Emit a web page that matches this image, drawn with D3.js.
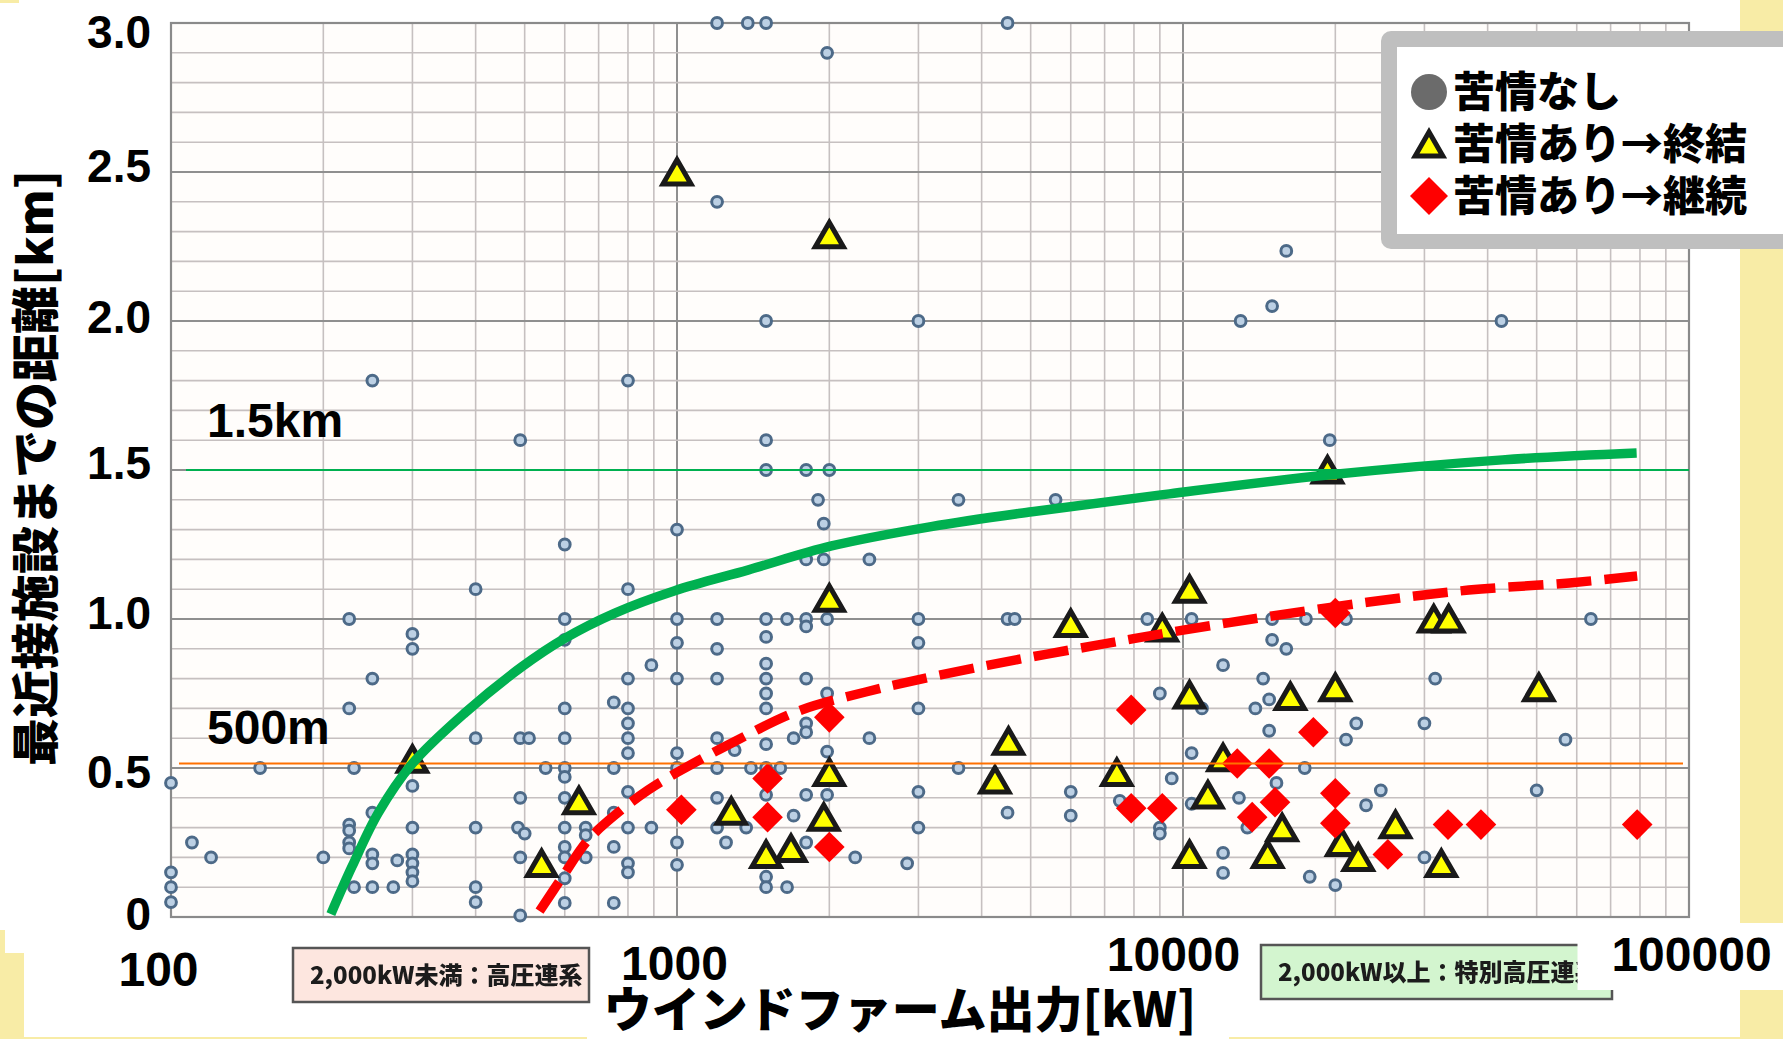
<!DOCTYPE html>
<html>
<head>
<meta charset="utf-8">
<script src="https://cdn.jsdelivr.net/npm/d3@7"></script>
<style>
	body { margin: 0; background: #fff; }
	svg { display: block; }
</style>
</head>
<body>
<svg id="chart"></svg>
<script>
// tick labels
var xTicks = [100, 1000, 10000, 100000];
var yTicks = [0, 0.5, 1.0, 1.5, 2.0, 2.5, 3.0];

// legend labels
var legendLabels = ["苦情なし", "苦情あり→終結", "苦情あり→継続"];
var axisTitles = {x: "ウインドファーム出力[kW]", y: "最近接施設までの距離[km]"};
var voltageNotes = ["2,000kW未満：高圧連系", "2,000kW以上：特別高圧連系"];

// reference distances [km]
var refLines = [{label: "1.5km", value: 1.5}, {label: "500m", value: 0.515}];

// [output kW, distance km]  no complaint
var noComplaint = [
	[1200,3.0],[1380,3.0],[1500,3.0],[4500,3.0],[1980,2.9],[1200,2.4],[16000,2.235],[15000,2.05],
	[1500,2.0],[3000,2.0],[13000,2.0],[42600,2.0],[250,1.8],[800,1.8],[490,1.6],[1500,1.6],[19500,1.6],
	[1500,1.5],[1800,1.5],[2000,1.5],[1900,1.4],[3600,1.4],[5600,1.4],[1950,1.32],[1000,1.3],[600,1.25],
	[1800,1.2],[1950,1.2],[2400,1.2],[400,1.1],[800,1.1],
	[225,1.0],[600,1.0],[1000,1.0],[1200,1.0],[1500,1.0],[1650,1.0],[1800,1.0],[1800,0.975],[1980,1.0],
	[3000,1.0],[4500,1.0],[4650,1.0],[8500,1.0],[10400,1.0],[15000,1.0],[17500,1.0],[21000,1.0],[64000,1.0],
	[300,0.95],[300,0.9],[600,0.93],[1000,0.92],[1200,0.9],[1500,0.94],[3000,0.92],[15000,0.93],[16000,0.9],
	[890,0.845],[1500,0.85],[12000,0.845],
	[250,0.8],[800,0.8],[1000,0.8],[1200,0.8],[1500,0.8],[1800,0.8],[14400,0.8],[31500,0.8],
	[1500,0.75],[1980,0.75],[9000,0.75],[750,0.72],[14800,0.73],
	[225,0.7],[600,0.7],[800,0.7],[1500,0.7],[3000,0.7],[10900,0.7],[13900,0.7],
	[800,0.65],[1800,0.65],[22000,0.65],[30000,0.65],[1800,0.62],[14800,0.625],
	[400,0.6],[490,0.6],[510,0.6],[600,0.6],[800,0.6],[1200,0.6],[1700,0.6],[2400,0.6],[21000,0.595],[57000,0.595],
	[1500,0.58],[1300,0.56],[800,0.55],[1000,0.55],[1980,0.555],[10400,0.55],
	[150,0.5],[230,0.5],[550,0.5],[600,0.5],[750,0.5],[1000,0.5],[1200,0.5],[1400,0.5],[1500,0.5],[1600,0.5],
	[3600,0.5],[17400,0.5],
	[100,0.45],[600,0.47],[9500,0.465],[15300,0.45],[300,0.44],
	[800,0.42],[3000,0.42],[6000,0.42],[24600,0.425],[50000,0.425],
	[490,0.4],[600,0.4],[1200,0.4],[1500,0.41],[1800,0.41],[1980,0.41],[12900,0.4],
	[7500,0.39],[10400,0.38],[23000,0.375],[250,0.35],[750,0.35],[4500,0.35],[1700,0.34],[6000,0.34],
	[225,0.31],[225,0.29],[300,0.3],[400,0.3],[485,0.3],[500,0.28],[600,0.3],[660,0.3],[660,0.275],[800,0.3],
	[890,0.3],[1200,0.3],[1370,0.3],[3000,0.3],[9000,0.3],[9000,0.28],[13400,0.3],
	[110,0.25],[225,0.25],[225,0.23],[600,0.235],[750,0.235],[1000,0.25],[1250,0.25],[1800,0.25],
	[120,0.2],[200,0.2],[250,0.21],[250,0.18],[280,0.19],[300,0.21],[300,0.18],[490,0.2],[600,0.2],[660,0.2],
	[2250,0.2],[12000,0.215],[30000,0.2],[800,0.18],[1000,0.175],[2850,0.18],
	[100,0.15],[300,0.15],[600,0.13],[800,0.15],[1500,0.135],[12000,0.148],[17800,0.135],[300,0.12],
	[100,0.1],[230,0.1],[250,0.1],[275,0.1],[400,0.1],[1500,0.1],[1650,0.1],[20000,0.107],
	[100,0.05],[400,0.05],[600,0.047],[750,0.047],[490,0.005]
];

// complaint -> resolved
var resolved = [
	[1000,2.5],[2000,2.29],[19300,1.5],[10300,1.1],[2000,1.07],[6000,0.985],[9100,0.97],[31300,1.0],[33500,1.0],
	[10300,0.745],[16300,0.74],[20000,0.77],[50500,0.77],[4520,0.59],[300,0.53],[12000,0.535],[4250,0.46],
	[7400,0.485],[2000,0.485],[11200,0.41],[640,0.39],[1280,0.355],[1950,0.335],[15700,0.3],[26300,0.31],
	[20600,0.25],[1680,0.23],[1500,0.21],[10300,0.21],[14700,0.21],[22200,0.2],[540,0.18],[32400,0.18]
];

// complaint -> continuing
var continuing = [
	[1020,0.36],[1510,0.465],[1510,0.335],[2000,0.67],[2000,0.235],[7900,0.695],[7900,0.365],[9100,0.365],
	[20000,1.02],[18100,0.62],[12800,0.515],[14800,0.515],[20000,0.415],[15200,0.385],[13700,0.335],
	[20000,0.315],[25400,0.21],[33400,0.31],[38800,0.31],[79000,0.31]
];

// hand drawn boundary curves
var resolvedCurve = [
	[207,0.01],[228,0.17],[257,0.35],[300,0.515],[381,0.685],[494,0.84],[600,0.935],[754,1.02],[990,1.095],
	[1385,1.165],[2020,1.245],[3180,1.31],[5030,1.36],[9400,1.42],[19300,1.483],[42800,1.534],[78800,1.557]
];
var continuingCurve = [
	[535,0.02],[594,0.135],[667,0.258],[764,0.35],[877,0.426],[1000,0.485],[1283,0.584],[1730,0.69],
	[2360,0.755],[3190,0.806],[4650,0.862],[6800,0.913],[9800,0.96],[14600,1.007],[23300,1.057],
	[36700,1.097],[58000,1.121],[79000,1.144]
];

var W = 1783, H = 1039;
var plot = {left: 171, right: 1689, top: 23, bottom: 917};
var numFont = "'Liberation Sans', Arial, sans-serif";
var jpFont = "'Noto Sans CJK JP', 'Noto Sans', sans-serif";
var yellow = "#f8eca6";

var svg = d3.select("#chart").attr("width", W).attr("height", H);

var x = d3.scaleLog().domain([100, 100000]).range([plot.left, plot.right]);
var y = d3.scaleLinear().domain([0, 3]).range([plot.bottom, plot.top]);

// yellow slide edges showing around the scanned chart
[[0,0,19,3],[1740,0,43,923],[1740,990,43,49],[0,930,5,109],[0,953,24,86],[24,1037,563,2],[1229,1037,511,2]]
	.forEach(function(r) {
		svg.append("rect").attr("x", r[0]).attr("y", r[1]).attr("width", r[2]).attr("height", r[3])
			.attr("fill", yellow);
	});

// plot area
svg.append("rect")
	.attr("x", plot.left).attr("y", plot.top)
	.attr("width", plot.right - plot.left).attr("height", plot.bottom - plot.top)
	.attr("fill", "#fffdfb");

// grid lines
var grid = svg.append("g");
grid.selectAll("line.v")
	.data(x.ticks())
	.enter().append("line")
	.attr("x1", function(d) { return x(d); }).attr("x2", function(d) { return x(d); })
	.attr("y1", plot.top).attr("y2", plot.bottom)
	.attr("stroke", function(d) { return Math.log10(d) % 1 === 0 ? "#8f8f8f" : "#c6c0c0"; })
	.attr("stroke-width", function(d) { return Math.log10(d) % 1 === 0 ? 2 : 1.6; });
grid.selectAll("line.h")
	.data(d3.range(1, 30))
	.enter().append("line")
	.attr("x1", plot.left).attr("x2", plot.right)
	.attr("y1", function(i) { return y(i / 10); }).attr("y2", function(i) { return y(i / 10); })
	.attr("stroke", function(i) { return i % 5 === 0 ? "#8f8f8f" : "#c6c0c0"; })
	.attr("stroke-width", function(i) { return i % 5 === 0 ? 2 : 1.6; });
svg.append("rect")
	.attr("x", plot.left).attr("y", plot.top)
	.attr("width", plot.right - plot.left).attr("height", plot.bottom - plot.top)
	.attr("fill", "none").attr("stroke", "#8a8a8a").attr("stroke-width", 2.2);

// soft look for the small scanned circles and note text
var defs = svg.append("defs");
defs.append("filter").attr("id", "soft")
	.append("feGaussianBlur").attr("stdDeviation", 0.5);

// no complaint
svg.append("g").attr("filter", "url(#soft)")
	.selectAll("circle")
	.data(noComplaint)
	.enter().append("circle")
	.attr("cx", function(d) { return x(d[0]); })
	.attr("cy", function(d) { return y(d[1]); })
	.attr("r", 5.4)
	.attr("fill", "#bcd0e4")
	.attr("stroke", "#4d6a88")
	.attr("stroke-width", 3);

var triangle = d3.symbol().type(d3.symbolTriangle).size(340);
var diamond = d3.symbol().type(d3.symbolSquare).size(470);

// complaint -> resolved
svg.append("g")
	.selectAll("path")
	.data(resolved)
	.enter().append("path")
	.attr("d", triangle)
	.attr("transform", function(d) { return "translate(" + x(d[0]) + "," + (y(d[1]) + 4) + ")"; })
	.attr("fill", "#ffff00")
	.attr("stroke", "#1a1a1a")
	.attr("stroke-width", 5);

// complaint -> continuing
svg.append("g")
	.selectAll("path")
	.data(continuing)
	.enter().append("path")
	.attr("d", diamond)
	.attr("transform", function(d) { return "translate(" + x(d[0]) + "," + y(d[1]) + ") rotate(45)"; })
	.attr("fill", "#ff0000");

// reference lines
var refColors = ["#00b050", "#ff7000"];
var refStart = [186, 179];
var refEnd = [1689, 1683];
var refBaseline = [437, 744];
refLines.forEach(function(r, i) {
	svg.append("line")
		.attr("x1", refStart[i]).attr("x2", refEnd[i])
		.attr("y1", y(r.value)).attr("y2", y(r.value))
		.attr("stroke", refColors[i]).attr("stroke-width", 2);
	svg.append("text")
		.attr("x", 207).attr("y", refBaseline[i])
		.attr("font-family", numFont).attr("font-weight", "bold").attr("font-size", 48)
		.text(r.label);
});

// boundary curves
var line = d3.line()
	.x(function(d) { return x(d[0]); })
	.y(function(d) { return y(d[1]); })
	.curve(d3.curveCatmullRom.alpha(0.5));
svg.append("path")
	.attr("d", line(resolvedCurve))
	.attr("fill", "none")
	.attr("stroke", "#00b050")
	.attr("stroke-width", 9.5);
svg.append("path")
	.attr("d", line(continuingCurve))
	.attr("fill", "none")
	.attr("stroke", "#ff0000")
	.attr("stroke-width", 9.5)
	.attr("stroke-dasharray", "35,13");

// voltage class notes under the axis
var notes = [
	{x: 293, y: 948, w: 296, h: 54, fill: "#fde6df"},
	{x: 1261, y: 945, w: 351, h: 54, fill: "#d3f5cf"}
];
notes.forEach(function(n, i) {
	var g = svg.append("g");
	g.append("rect")
		.attr("x", n.x).attr("y", n.y).attr("width", n.w).attr("height", n.h)
		.attr("fill", n.fill).attr("stroke", "#555").attr("stroke-width", 2.5);
	g.append("text")
		.attr("x", n.x + 17).attr("y", n.y + n.h / 2)
		.attr("dy", "0.36em")
		.attr("font-family", jpFont).attr("font-weight", 900).attr("font-size", 24)
		.attr("fill", "#1a1a1a")
		.attr("filter", "url(#soft)")
		.text(voltageNotes[i]);
});

// axes
var yOffsets = {0: -2, 0.5: 5, 1: -5, 1.5: -6, 2: -3, 2.5: -5, 3: 10};
var yAxis = d3.axisLeft(y)
	.tickValues(yTicks)
	.tickSize(0)
	.tickPadding(20)
	.tickFormat(function(d) { return d === 0 ? "0" : d3.format(".1f")(d); });
svg.append("g")
	.attr("transform", "translate(" + plot.left + ",0)")
	.call(yAxis)
	.call(function(g) { g.select(".domain").remove(); })
	.attr("font-family", numFont).attr("font-size", 46).attr("font-weight", "bold")
	.selectAll(".tick text")
	.attr("fill", "#000")
	.attr("y", function(d) { return yOffsets[d]; });

var xOffsets = {100: [-13, 0], 1000: [-3, -6], 10000: [-10, -15], 100000: [2, -15]};
var xAxis = d3.axisBottom(x)
	.tickValues(xTicks)
	.tickSize(0)
	.tickPadding(35)
	.tickFormat(d3.format("d"));
svg.append("g")
	.attr("transform", "translate(0," + plot.bottom + ")")
	.call(xAxis)
	.call(function(g) { g.select(".domain").remove(); })
	.attr("font-family", numFont).attr("font-size", 48).attr("font-weight", "bold")
	.selectAll(".tick").each(function(d) {
		var t = d3.select(this);
		if (d === 100000) {
			// white patch behind the last label hides the end of the green note box
			t.insert("rect", "text").attr("x", -112).attr("y", 6).attr("width", 206).attr("height", 67)
				.attr("fill", "#fff");
		}
		t.select("text").attr("fill", "#000")
			.attr("dx", xOffsets[d][0]).attr("y", 35 + xOffsets[d][1]);
	});

// axis titles
svg.append("text")
	.attr("transform", "translate(36,468) rotate(-90)")
	.attr("text-anchor", "middle").attr("dy", "0.36em")
	.attr("font-family", jpFont).attr("font-weight", 900).attr("font-size", 48)
	.text(axisTitles.y);
svg.append("text")
	.attr("x", 900).attr("y", 1010)
	.attr("text-anchor", "middle").attr("dy", "0.36em")
	.attr("font-family", jpFont).attr("font-weight", 900).attr("font-size", 48)
	.text(axisTitles.x);

// legend
var legend = svg.append("g");
legend.append("rect")
	.attr("x", 1381).attr("y", 31).attr("width", 420).attr("height", 218).attr("rx", 10)
	.attr("fill", "#bfbfbf");
legend.append("rect")
	.attr("x", 1397).attr("y", 47).attr("width", 400).attr("height", 187)
	.attr("fill", "#fff");
var rowY = [92, 144, 196];
legend.append("circle").attr("cx", 1429).attr("cy", rowY[0]).attr("r", 18).attr("fill", "#6b6b6b");
legend.append("path")
	.attr("d", d3.symbol().type(d3.symbolTriangle).size(330)())
	.attr("transform", "translate(1429," + (rowY[1] + 4) + ")")
	.attr("fill", "#ffff00").attr("stroke", "#1a1a1a").attr("stroke-width", 5);
legend.append("path")
	.attr("d", d3.symbol().type(d3.symbolSquare).size(720)())
	.attr("transform", "translate(1429," + rowY[2] + ") rotate(45)")
	.attr("fill", "#ff0000");
legend.selectAll("text")
	.data(legendLabels)
	.enter().append("text")
	.attr("x", 1453)
	.attr("y", function(d, i) { return rowY[i]; })
	.attr("dy", "0.36em")
	.attr("font-family", jpFont).attr("font-weight", 900).attr("font-size", 42)
	.text(function(d) { return d; });
</script>
</body>
</html>
